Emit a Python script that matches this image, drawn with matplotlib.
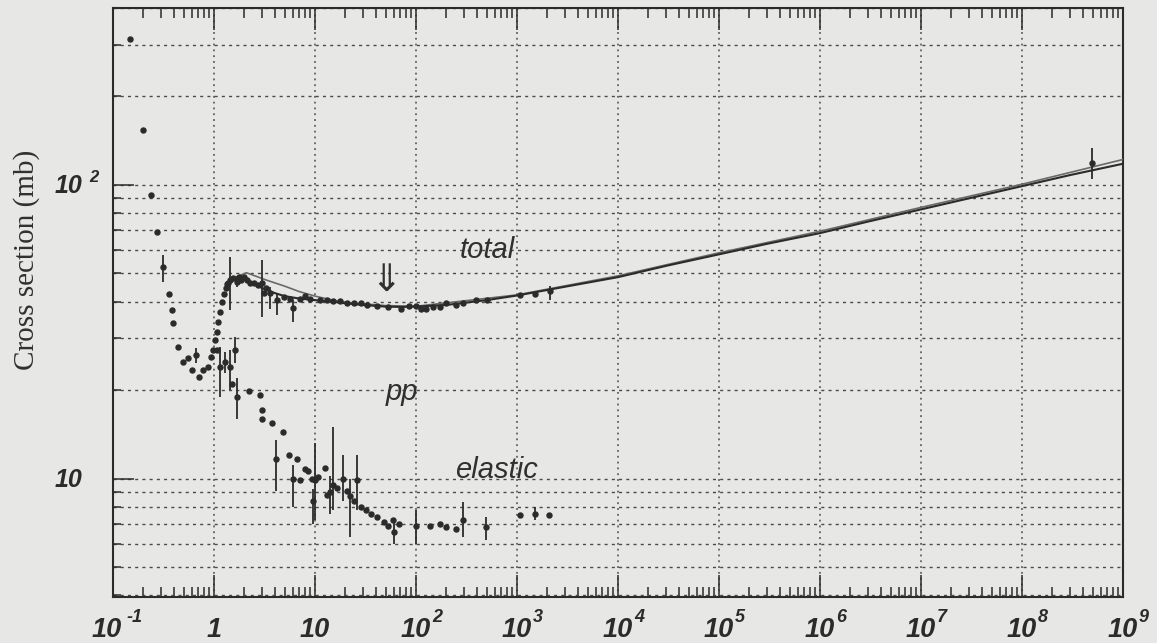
import numpy as np
import matplotlib
matplotlib.use("Agg")
import matplotlib.pyplot as plt
import matplotlib.transforms as mtrans
from matplotlib.ticker import LogLocator, NullFormatter

# ---------------- data ----------------
# total pp cross section: p_lab (GeV/c), sigma (mb), lower / upper error (mb)
tot_x = [0.147, 0.198, 0.238, 0.273, 0.313, 0.358, 0.381, 0.39, 0.437, 0.497,
         0.552, 0.60, 0.66, 0.714, 0.78, 0.87, 0.94, 0.98, 1.02, 1.06,
         1.10, 1.15, 1.20, 1.25, 1.30, 1.35, 1.39, 1.45, 1.55, 1.67,
         1.75, 1.85, 1.96, 2.10, 2.29, 2.50, 2.70, 2.97, 3.10, 3.30,
         3.60, 4.20, 4.90, 5.67, 6.10, 7.10, 8.00, 8.90, 11.2, 13.1,
         15.2, 17.7, 20.7, 24.2, 28.3, 33.0, 41.5, 52.3, 70.2, 85.0,
         100, 112, 126, 147, 172, 200, 250, 293, 395, 500,
         1070, 1500, 2130, 4.9e8]
tot_y = [313, 154, 92, 69.3, 52.7, 42.5, 37.4, 33.8, 28.1, 24.9,
         25.7, 23.4, 26.3, 22.2, 23.4, 24.0, 26.0, 27.3, 29.6, 31.5,
         34.0, 37.0, 40.0, 42.5, 44.5, 46.0, 46.5, 47.4, 48.0, 46.8,
         48.5, 47.5, 48.7, 47.5, 46.2, 46.5, 45.5, 46.2, 42.7, 44.5,
         42.7, 40.5, 41.5, 41.0, 38.2, 41.0, 42.0, 41.0, 40.5, 40.5,
         40.1, 40.1, 39.7, 39.7, 39.5, 38.9, 38.6, 38.4, 37.7, 38.6,
         38.6, 37.7, 37.7, 38.4, 38.4, 39.5, 39.0, 39.5, 40.5, 40.5,
         42.2, 42.5, 43.6, 119]
tot_lo = [0, 0, 0, 0, 5.9, 0, 0, 0, 0, 0,
          0, 0, 1.5, 0, 0, 0, 0, 0, 0, 0,
          0, 0, 0, 0, 0, 0, 0, 10.0, 0, 2.0,
          0, 0, 0, 0, 0, 0, 0, 10.7, 0, 0,
          4.8, 4.5, 0, 0, 4.0, 0, 0, 0, 0, 0,
          0, 0, 0, 0, 0, 0, 0, 0, 0, 0,
          0, 0, 0, 0, 0, 0, 0, 0, 0, 0,
          0, 0, 3.0, 14]
tot_hi = [0, 0, 0, 0, 5.0, 0, 0, 0, 0, 0,
          0, 0, 1.5, 0, 0, 0, 0, 0, 0, 0,
          0, 0, 0, 0, 0, 0, 0, 9.5, 0, 2.0,
          0, 0, 0, 0, 0, 0, 0, 9.3, 0, 0,
          2.3, 2.2, 0, 0, 2.3, 0, 0, 0, 0, 0,
          0, 0, 0, 0, 0, 0, 0, 0, 0, 0,
          0, 0, 0, 0, 0, 0, 0, 0, 0, 0,
          0, 0, 1.5, 14]

# elastic pp cross section
el_x = [1.06, 1.15, 1.28, 1.44, 1.49, 1.62, 1.67, 2.24, 2.85, 2.96,
        3.00, 3.72, 4.10, 4.86, 5.57, 6.00, 6.70, 7.10, 7.97, 8.60,
        9.30, 9.60, 10.0, 10.8, 12.5, 13.2, 14.2, 15.2, 16.4, 18.9,
        20.7, 22.4, 24.2, 26.1, 28.3, 31.7, 35.6, 41.5, 48.4, 52.3,
        58.8, 61.1, 68.6, 100, 138, 174, 199, 251, 293, 497,
        1070, 1500, 2050]
el_y = [27.3, 24.0, 24.9, 24.0, 21.0, 27.3, 18.9, 19.9, 19.2, 17.1,
        16.0, 15.4, 11.7, 14.4, 12.0, 10.0, 11.7, 9.9, 10.8, 10.6,
        10.0, 8.4, 9.9, 10.1, 10.9, 8.8, 9.0, 9.5, 9.3, 10.0,
        9.1, 8.7, 8.4, 9.9, 8.0, 7.8, 7.6, 7.4, 7.1, 6.9,
        7.2, 6.6, 7.0, 6.9, 6.9, 7.0, 6.85, 6.75, 7.2, 6.85,
        7.5, 7.6, 7.5]
el_lo = [0, 5.1, 2.0, 4.0, 0, 2.5, 2.9, 0, 0, 0,
         0, 0, 2.6, 0, 0, 2.0, 0, 0, 0, 0,
         0, 1.4, 2.7, 0, 0, 0, 1.4, 1.7, 0, 1.6,
         0, 2.4, 0, 2.1, 0, 0, 0, 0, 0, 0,
         0, 0.6, 0, 0.9, 0, 0, 0, 0, 0.9, 0.65,
         0, 0.4, 0]
el_hi = [0, 4.1, 2.0, 3.5, 0, 3.0, 3.1, 0, 0, 0,
         0, 0, 1.8, 0, 0, 1.1, 0, 0, 0, 0,
         0, 0.8, 3.3, 0, 0, 0, 1.2, 5.5, 0, 2.0,
         0, 1.3, 0, 2.1, 0, 0, 0, 0, 0, 0,
         0, 0.7, 0, 0.9, 0, 0, 0, 0, 1.1, 0.55,
         0, 0.4, 0]

# fitted curves for the total cross section
fitA_x = [1.45, 1.7, 2.0, 2.5, 3.0, 4.0, 5.0, 7.0, 10, 15, 20, 30, 50, 70, 100,
          200, 500, 1e3, 3e3, 1e4, 3e4, 1e5, 3e5, 1e6, 3e6, 1e7, 3e7, 1e8,
          3e8, 1e9]
fitA_y = [47, 47.8, 47.5, 46, 44.5, 42.8, 41.8, 41, 40.5, 40, 39.5, 39, 38.5,
          38.4, 38.5, 39, 40.5, 42, 45, 48.5, 53, 58, 63, 68.5, 75, 82.5, 90,
          99, 108, 118]
fitB_x = [1.75, 2.1, 3.3, 5, 7, 10, 15, 22, 50, 100, 1e3, 1e4, 1e5, 1e6, 1e7,
          1e8, 1e9]
fitB_y = [49, 50.2, 47.4, 45.2, 43.3, 41.8, 40.5, 39.7, 38.8, 38.6, 42.2, 49,
          58.7, 69.5, 83.8, 100.5, 122]

x_exponents = [-1, 0, 1, 2, 3, 4, 5, 6, 7, 8, 9]
y_exponents = [1, 2]

# ---------------- styling ----------------
BG = "#e7e7e5"
INK = "#2b2b2b"
GRID = "#4a4a4a"
LABEL_FONT = ["Liberation Sans Narrow", "Liberation Sans", "DejaVu Sans"]

fig = plt.figure(figsize=(11.57, 6.43), dpi=100, facecolor=BG)
ax = fig.add_axes([0.0977, 0.0715, 0.8729, 0.916])
ax.set_facecolor(BG)
ax.set_xscale("log")
ax.set_yscale("log")
ax.set_xlim(1e-1, 1e9)
ax.set_ylim(3.95, 400)

# grid
ax.xaxis.grid(True, which="major", linestyle=(0, (1.2, 2.6)), color=GRID, lw=1.1)
ax.yaxis.grid(True, which="both", linestyle=(0, (2.2, 3.0)), color=GRID, lw=1.0)
ax.set_axisbelow(True)

# ticks
ax.xaxis.set_major_locator(LogLocator(base=10, numticks=20))
ax.xaxis.set_minor_locator(LogLocator(base=10, subs=np.arange(2, 10), numticks=20))
ax.yaxis.set_minor_locator(LogLocator(base=10, subs=np.arange(2, 10), numticks=20))
ax.xaxis.set_minor_formatter(NullFormatter())
ax.yaxis.set_minor_formatter(NullFormatter())
ax.tick_params(axis="x", which="both", direction="in", top=True, bottom=True,
               labelbottom=False, color=INK, width=1.1)
ax.tick_params(axis="x", which="major", length=16)
ax.tick_params(axis="x", which="minor", length=7.5)
ax.tick_params(axis="y", which="both", direction="in", left=True, right=False,
               labelleft=False, color=INK, width=1.1)
ax.tick_params(axis="y", which="major", length=15)
ax.tick_params(axis="y", which="minor", length=6)
for s in ax.spines.values():
    s.set_color(INK)
    s.set_linewidth(1.5)

# fits
ax.plot(fitB_x, fitB_y, color="#6a6a6a", lw=1.2, zorder=3)
ax.plot(fitA_x, fitA_y, color=INK, lw=1.5, zorder=3)

# data
ax.errorbar(tot_x, tot_y, yerr=[tot_lo, tot_hi], fmt="o", ms=3.6, color=INK,
            ecolor=INK, elinewidth=1.3, capsize=0, zorder=4)
ax.errorbar(el_x, el_y, yerr=[el_lo, el_hi], fmt="o", ms=3.6, color=INK,
            ecolor=INK, elinewidth=1.3, capsize=0, zorder=4)

# annotations
txt_kw = dict(fontfamily=["Liberation Sans", "DejaVu Sans"], style="italic",
              fontsize=21, color="#303030", zorder=5)
ax.text(510, 56.4, "total", ha="center", va="baseline", **txt_kw)
ax.text(72.6, 18.5, "pp", ha="center", va="baseline", **txt_kw)
ax.text(620, 10.05, "elastic", ha="center", va="baseline", **txt_kw)
ax.text(50, 47, "\u21d3", ha="center", va="center", fontsize=27,
        fontfamily="DejaVu Sans", color="#303030", zorder=5)

# tick labels drawn manually: "10" with a detached superscript
xtrans = mtrans.blended_transform_factory(ax.transData, ax.transAxes)
for e in x_exponents:
    main = "1" if e == 0 else "10"
    shift = -6 if e == -1 else 0
    t = mtrans.offset_copy(xtrans, fig=fig, x=shift, y=-40, units="dots")
    ax.text(10.0 ** e, 0, main, transform=t, ha="center", va="baseline",
            fontfamily=LABEL_FONT, fontweight="bold", style="italic",
            fontsize=19.5, color=INK, clip_on=False)
    if e not in (0, 1):
        sx = 19 if e == -1 else 16
        ts = mtrans.offset_copy(xtrans, fig=fig, x=shift + sx, y=-25, units="dots")
        ax.text(10.0 ** e, 0, str(e), transform=ts, ha="left", va="baseline",
                fontfamily=LABEL_FONT, fontweight="bold", style="italic",
                fontsize=13, color=INK, clip_on=False)

ytrans = mtrans.blended_transform_factory(ax.transAxes, ax.transData)
for e in y_exponents:
    t = mtrans.offset_copy(ytrans, fig=fig, x=-31, y=-8, units="dots")
    ax.text(0, 10.0 ** e, "10", transform=t, ha="right", va="baseline",
            fontfamily=LABEL_FONT, fontweight="bold", style="italic",
            fontsize=18, color=INK, clip_on=False)
    if e != 1:
        ts = mtrans.offset_copy(ytrans, fig=fig, x=-24, y=3, units="dots")
        ax.text(0, 10.0 ** e, str(e), transform=ts, ha="left", va="baseline",
                fontfamily=LABEL_FONT, fontweight="bold", style="italic",
                fontsize=12, color=INK, clip_on=False)

ax.set_ylabel("Cross section (mb)", fontfamily="Liberation Serif", fontsize=21,
              color="#303030")
ax.yaxis.set_label_coords(-0.072, 0.572)

fig.savefig("out.png", dpi=100, facecolor=BG)
